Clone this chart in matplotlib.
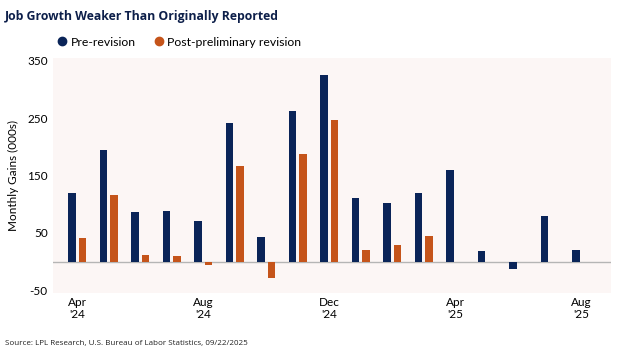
import numpy as np
import matplotlib
matplotlib.use("Agg")
import matplotlib.pyplot as plt
from matplotlib.lines import Line2D

# monthly payroll gains (000s), Apr '24 .. Aug '25
months = ["Apr\n'24", "May", "Jun", "Jul", "Aug\n'24", "Sep", "Oct", "Nov",
          "Dec\n'24", "Jan", "Feb", "Mar", "Apr\n'25", "May", "Jun", "Jul",
          "Aug\n'25"]
pre_revision = [119, 194, 87, 88, 71, 241, 43, 262, 325, 111, 103, 120,
                159, 18, -13, 79, 21]
# revision only covers Apr '24 .. Mar '25
post_revision = [41, 117, 11, 10, -6, 166, -29, 188, 247, 21, 29, 45]
shown_ticks = [0, 4, 8, 12, 16]
yticks = [-50, 50, 150, 250, 350]

NAVY = "#0a2458"
ORANGE = "#c5541a"
BG = "#fcf6f5"
FONT = "Lato"

fig = plt.figure(figsize=(6.23, 3.54), dpi=100)
ax = fig.add_axes([0.0856, 0.172, 0.8944, 0.664])
ax.set_facecolor(BG)

x = np.arange(len(months))
w = 0.24
ax.bar(x - 0.167, pre_revision, width=w, color=NAVY, zorder=3)
xp = np.arange(len(post_revision))
ax.bar(xp + 0.167, post_revision, width=w, color=ORANGE, zorder=3)
ax.axhline(0, color="#b5b5b5", lw=1, zorder=2)

ax.set_xlim(-0.76, 16.93)
ax.set_ylim(-55, 355)
ax.set_xticks(shown_ticks)
ax.set_xticklabels([months[i] for i in shown_ticks], family=FONT, fontsize=8.5,
                   linespacing=1.1)
ax.set_yticks(yticks)
ax.set_yticklabels([str(v) for v in yticks], family=FONT, fontsize=8.5)
ax.tick_params(length=0, pad=4)
ax.tick_params(axis="x", pad=3)
for s in ax.spines.values():
    s.set_visible(False)
ax.set_ylabel("Monthly Gains (000s)", family=FONT, fontsize=8.5, labelpad=6)

fig.text(0.008, 0.952, "Job Growth Weaker Than Originally Reported",
         family="Open Sans", fontweight="bold", fontsize=8.8, color="#0d1f4a",
         va="center", ha="left")

handles = [Line2D([], [], marker="o", ls="", color=NAVY, markersize=6),
           Line2D([], [], marker="o", ls="", color=ORANGE, markersize=6)]
fig.legend(handles, ["Pre-revision", "Post-preliminary revision"],
           loc="center left", bbox_to_anchor=(0.072, 0.881), ncol=2, frameon=False,
           prop={"family": FONT, "size": 8.8}, handletextpad=0.2,
           columnspacing=1.4, handlelength=1.0)

fig.text(0.008, 0.03, "Source: LPL Research, U.S. Bureau of Labor Statistics, 09/22/2025",
         family="Open Sans", fontsize=5.8, color="#222222", va="center", ha="left")

fig.savefig("out.png", dpi=100)
